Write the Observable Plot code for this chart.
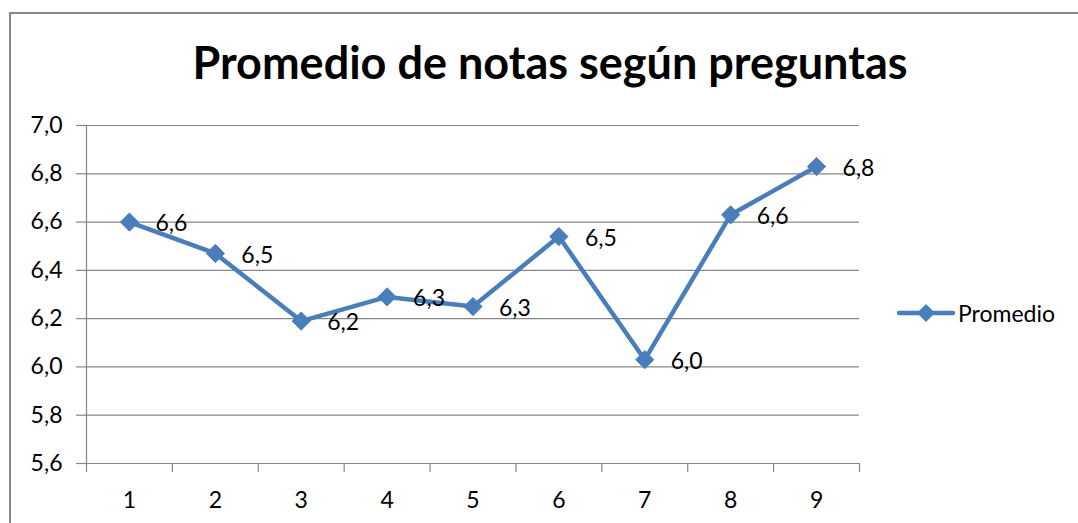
<!DOCTYPE html>
<html>
<head>
<meta charset="utf-8">
<script src="https://cdn.jsdelivr.net/npm/d3@7"></script>
<script src="https://cdn.jsdelivr.net/npm/@observablehq/plot@0.6"></script>
<style>
  html, body { margin: 0; padding: 0; background: #fff; }
  #wrap { position: relative; width: 1078px; height: 523px; overflow: hidden; font-family: Lato, "Open Sans", sans-serif; }
  #frame { position: absolute; left: 9px; top: 12px; width: 1200px; height: 600px; border-left: 2px solid #878787; border-top: 2px solid #878787; }
  #title { position: absolute; left: 0; top: 0; width: 1100px; height: 100px; text-align: center; font-weight: 700; font-size: 45px; line-height: 45px; color: #000; padding-top: 40px; box-sizing: border-box; white-space: nowrap; }
  #chart { position: absolute; left: 0; top: 100px; }
  #legend { position: absolute; left: 897px; top: 298px; display: flex; align-items: center; font-size: 23px; color: #000; }
  #legend svg { display: block; margin-right: 3px; }
</style>
</head>
<body>
<div id="wrap">
  <div id="frame"></div>
  <div id="title">Promedio de notas según preguntas</div>
  <div id="chart"></div>
  <div id="legend"></div>
</div>
<script>
// Data
const preguntas = [1, 2, 3, 4, 5, 6, 7, 8, 9];
const promedio = [6.60, 6.47, 6.19, 6.29, 6.25, 6.54, 6.03, 6.63, 6.83];
const etiquetas = ["6,6", "6,5", "6,2", "6,3", "6,3", "6,5", "6,0", "6,6", "6,8"];
const yTicks = [5.6, 5.8, 6.0, 6.2, 6.4, 6.6, 6.8, 7.0];
const seriesName = "Promedio";

const color = "#4A7EBB";
const data = preguntas.map((p, i) => ({pregunta: p, valor: promedio[i], etiqueta: etiquetas[i]}));
const boundaries = d3.range(0.5, preguntas.length + 1, 1);
const fmt = d => d.toFixed(1).replace(".", ",");

const chart = Plot.plot({
  width: 1078,
  height: 423,
  marginLeft: 86,
  marginRight: 219,
  marginTop: 25,
  marginBottom: 60,
  style: {fontFamily: "Lato, 'Open Sans', sans-serif", fontSize: "23px", color: "#000", background: "transparent", overflow: "visible"},
  x: {type: "linear", domain: [0.5, preguntas.length + 0.5]},
  y: {domain: [5.6, 7.0]},
  marks: [
    Plot.ruleY(yTicks, {stroke: "#878787", strokeWidth: 1.2}),
    Plot.ruleX([0.5], {y1: 5.6, y2: 7.0, stroke: "#878787", strokeWidth: 1.2}),
    Plot.axisY({ticks: yTicks, tickSize: 10, tickPadding: 14, tickFormat: fmt, stroke: "#878787", strokeWidth: 1.2, fill: "#000", label: null, fontSize: 23}),
    Plot.axisX({ticks: boundaries, tickSize: 9, tickFormat: () => "", stroke: "#878787", strokeWidth: 1.2, label: null}),
    Plot.axisX({ticks: preguntas, tickSize: 0, tickPadding: 28, tickFormat: d => String(d), fill: "#000", label: null, fontSize: 23}),
    Plot.line(data, {x: "pregunta", y: "valor", stroke: color, strokeWidth: 4.5, strokeLinejoin: "round"}),
    Plot.dot(data, {x: "pregunta", y: "valor", symbol: "diamond2", r: 8.2, fill: color, stroke: color, strokeWidth: 1}),
    Plot.text(data, {x: "pregunta", y: "valor", text: "etiqueta", textAnchor: "start", dx: 26, dy: 2, fill: "#000", fontSize: 23})
  ]
});
document.getElementById("chart").appendChild(chart);

// Legend
const legend = document.getElementById("legend");
const ns = "http://www.w3.org/2000/svg";
const sw = document.createElementNS(ns, "svg");
sw.setAttribute("width", 58);
sw.setAttribute("height", 30);
const ln = document.createElementNS(ns, "line");
ln.setAttribute("x1", 2); ln.setAttribute("x2", 56);
ln.setAttribute("y1", 15); ln.setAttribute("y2", 15);
ln.setAttribute("stroke", color); ln.setAttribute("stroke-width", 4.5); ln.setAttribute("stroke-linecap", "round");
sw.appendChild(ln);
const dm = document.createElementNS(ns, "path");
dm.setAttribute("d", "M29,6 L38,15 L29,24 L20,15 Z");
dm.setAttribute("fill", color);
sw.appendChild(dm);
legend.appendChild(sw);
const lt = document.createElement("span");
lt.textContent = seriesName;
legend.appendChild(lt);
</script>
</body>
</html>
